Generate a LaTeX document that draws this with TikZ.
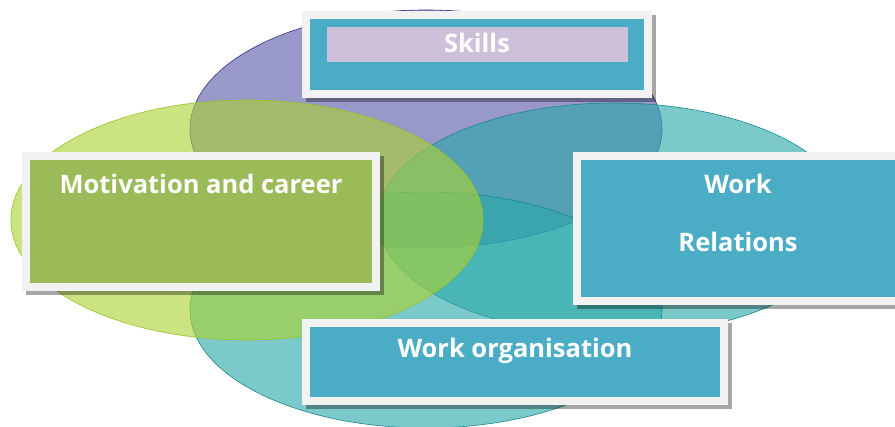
\documentclass[tikz,border=0pt]{standalone}
\usepackage{fontspec}
\setmainfont{Open Sans}
\usetikzlibrary{shadows}

\definecolor{skillfill}{RGB}{88,88,168}
\definecolor{skillline}{RGB}{50,50,140}
\definecolor{motivfill}{RGB}{172,210,53}
\definecolor{motivline}{RGB}{150,195,30}
\definecolor{workfill}{RGB}{43,168,168}
\definecolor{workline}{RGB}{25,135,140}
\definecolor{cardteal}{RGB}{75,172,198}
\definecolor{cardgreen}{RGB}{155,187,89}
\definecolor{cardlilac}{RGB}{204,192,218}
\definecolor{framegrey}{RGB}{242,242,242}

\tikzset{
    blob/.style={fill opacity=0.62, line width=0.6pt},
    card/.style={draw=framegrey, line width=8pt, inner sep=0pt,
        general shadow={fill=black, draw=black, line width=8pt, opacity=0.35,
            shadow xshift=4pt, shadow yshift=-4pt}},
    cardtext/.style={text=white, inner sep=0pt,
        font=\bfseries\fontsize{25.5}{30}\selectfont}
}

\begin{document}
\begin{tikzpicture}[x=1pt, y=-1pt]
        \useasboundingbox (0,0) rectangle (895,427);

        % the four overlapping areas
        \draw[blob, fill=skillfill, draw=skillline] (426,129) ellipse [x radius=236, y radius=119];
        \draw[blob, fill=workfill, draw=workline] (614,219) ellipse [x radius=236, y radius=116];
        \draw[blob, fill=workfill, draw=workline] (426,310) ellipse [x radius=236, y radius=118];
        \draw[blob, fill=motivfill, draw=motivline] (247,220) ellipse [x radius=236, y radius=120];

        % cards
        \node[card, fill=cardteal, minimum width=341.5pt, minimum height=78.5pt] (skills) at (476.75,54.75) {};
        \node[fill=cardlilac, minimum width=301pt, minimum height=35pt, inner sep=0pt] (skillsbar) at (477.5,44.5) {};
        \node[card, fill=cardgreen, minimum width=350pt, minimum height=130.5pt] (motiv) at (201,221.75) {};
        \node[card, fill=cardteal, minimum width=345pt, minimum height=145pt] (relations) at (749.5,229) {};
        \node[card, fill=cardteal, minimum width=418pt, minimum height=77.5pt] (organis) at (515,362.25) {};

        % labels
        \node[cardtext] (skillslbl) at (477,43) {Skills};
        \node[cardtext] (motivlbl) at (201,184) {Motivation and career};
        \node[cardtext] (worklbl) at (738,184) {Work};
        \node[cardtext] (relationslbl) at (738,242) {Relations};
        \node[cardtext] (organislbl) at (515,351) {Work organisation};
\end{tikzpicture}
\end{document}
